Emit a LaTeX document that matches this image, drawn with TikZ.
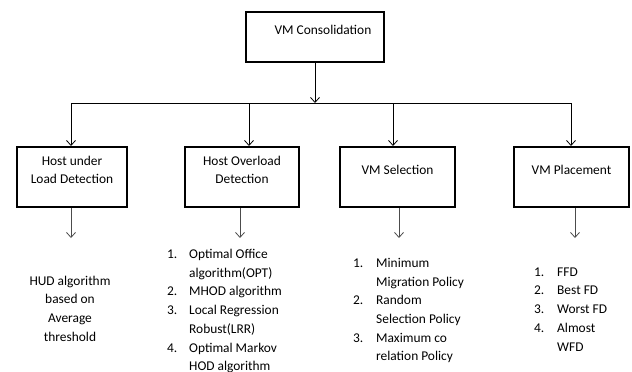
\documentclass[tikz,border=0pt]{standalone}
\usepackage{fontspec}
\setmainfont{Carlito}
\usepackage{tikz}
\usetikzlibrary{arrows.meta}
\newcommand{\itm}[1]{\makebox[22pt][l]{#1}}
\newcommand{\cont}{\hspace*{22pt}}
\newcommand{\itmw}[1]{\makebox[23pt][l]{#1}}
\newcommand{\contw}{\hspace*{23pt}}

\begin{document}
\begin{tikzpicture}[x=1pt,y=-1pt,
  box/.style={draw,line width=2pt,minimum height=60pt},
  boxtext/.style={align=center,inner sep=0pt,font=\fontsize{13.4}{18.7}\selectfont},
  listtext/.style={align=left,anchor=north west,inner sep=0pt,font=\fontsize{13.4}{18.7}\selectfont},
  conn/.style={-{Straight Barb[length=5pt,width=9pt]},line width=0.8pt},
  outconn/.style={conn,draw=black!70}]
  \useasboundingbox (0,0) rectangle (632,372);
  \node[box,minimum width=138pt,minimum height=50pt] (vmc) at (315,37) {};
  \node[boxtext] (vmc-t) at ([xshift=8pt,yshift=7pt]vmc.center) {VM Consolidation};
  \node[box,minimum width=110pt] (hul) at (72,177) {};
  \node[boxtext] (hul-t) at ([yshift=7pt]hul.center) {Host under\\Load Detection};
  \node[box,minimum width=114pt] (hod) at (242,177) {};
  \node[boxtext] (hod-t) at ([yshift=7pt]hod.center) {Host Overload\\Detection};
  \node[box,minimum width=115pt] (vms) at (397.5,177) {};
  \node[boxtext] (vms-t) at ([yshift=7pt]vms.center) {VM Selection};
  \node[box,minimum width=115pt] (vmp) at (571.5,177) {};
  \node[boxtext] (vmp-t) at ([yshift=7pt]vmp.center) {VM Placement};
  \coordinate (bus) at (315,103);
  \coordinate (j1) at (71,103);
  \coordinate (j2) at (249,103);
  \coordinate (j3) at (393,103);
  \coordinate (j4) at (571,103);
  \draw[conn] (vmc) -- (bus);
  \draw[line width=0.8pt] (j1) -- (j4);
  \draw[conn] (j1) -- (j1 |- hul.north);
  \draw[conn] (j2) -- (j2 |- hod.north);
  \draw[conn] (j3) -- (j3 |- vms.north);
  \draw[conn] (j4) -- (j4 |- vmp.north);
  \coordinate (hul-end) at (71,238);
  \coordinate (hod-end) at (240,238);
  \coordinate (vms-end) at (399,238);
  \coordinate (vmp-end) at (575,238);
  \draw[outconn] (hul-end |- hul.south) -- (hul-end);
  \draw[outconn] (hod-end |- hod.south) -- (hod-end);
  \draw[outconn] (vms-end |- vms.south) -- (vms-end);
  \draw[outconn] (vmp-end |- vmp.south) -- (vmp-end);
  \node[boxtext,anchor=north] (hud) at (70,275.6) {HUD algorithm\\based on\\Average\\threshold};
  \node[listtext] (hod-l) at (167,249) {\itm{1.}Optimal Office\\\cont algorithm(OPT)\\\itm{2.}MHOD algorithm\\\itm{3.}Local Regression\\\cont Robust(LRR)\\\itm{4.}Optimal Markov\\\cont HOD algorithm};
  \node[listtext] (vms-l) at (353,258) {\itmw{1.}Minimum\\\contw Migration Policy\\\itmw{2.}Random\\\contw Selection Policy\\\itmw{3.}Maximum co\\\contw relation Policy};
  \node[listtext] (vmp-l) at (534,267.4) {\itmw{1.}FFD\\\itmw{2.}Best FD\\\itmw{3.}Worst FD\\\itmw{4.}Almost\\\contw WFD};
\end{tikzpicture}
\end{document}
